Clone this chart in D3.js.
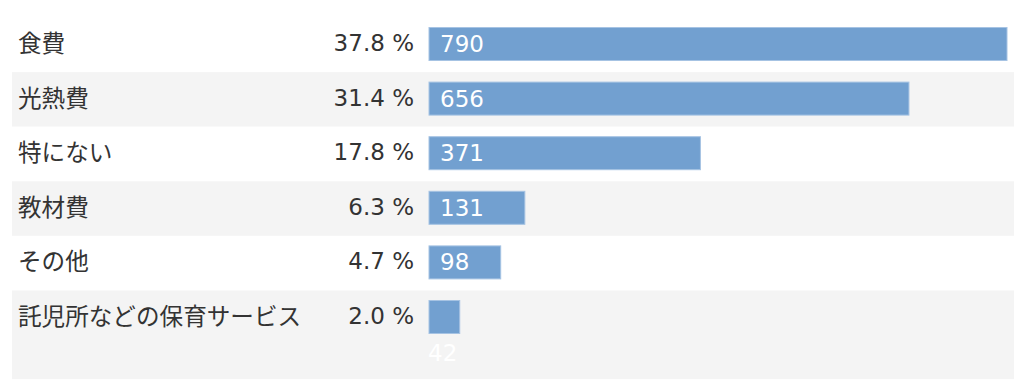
<!DOCTYPE html>
<meta charset="utf-8">
<head>
<script src="https://cdnjs.cloudflare.com/ajax/libs/d3/7.8.5/d3.min.js"></script>
<style>
  body { margin: 0; background: #fff; }
  text { font-family: "Noto Sans CJK JP", "Noto Sans", sans-serif; }
  text.num { font-family: "DejaVu Sans", "Noto Sans", sans-serif; }
</style>
</head>
<body>
<div id="my_dataviz"></div>
<script>
  // data
  var categories = ["食費", "光熱費", "特にない", "教材費", "その他", "託児所などの保育サービス"];
  var percents = [37.8, 31.4, 17.8, 6.3, 4.7, 2.0];
  var counts = [790, 656, 371, 131, 98, 42];

  var width = 1024, height = 390;
  var top0 = 17.5, rowH = 54.6, extraH = 34;
  var bgLeft = 12, bgRight = 1014;
  var barH = 33, barPad = 10;

  var svg = d3.select("#my_dataviz")
    .append("svg")
      .attr("width", width)
      .attr("height", height);

  var x = d3.scaleLinear()
    .domain([0, d3.max(counts)])
    .range([429, 1007]);

  // labels that don't fit inside the bar go below it
  var rows = [];
  var yy = top0;
  categories.forEach(function(c, i) {
    var inside = x(counts[i]) - x(0) > 50;
    var h = inside ? rowH : rowH + extraH;
    rows.push({name: c, pct: percents[i], n: counts[i], y: yy, h: h, inside: inside, i: i});
    yy += h;
  });

  var g = svg.selectAll("g.row")
    .data(rows)
    .enter()
    .append("g")
      .attr("class", "row")
      .attr("transform", function(d){ return "translate(0," + d.y + ")"; });

  g.append("rect")
    .attr("x", bgLeft)
    .attr("y", 0)
    .attr("width", bgRight - bgLeft)
    .attr("height", function(d){ return d.h; })
    .attr("fill", function(d){ return d.i % 2 ? "#f4f4f4" : "#ffffff"; });

  g.append("rect")
    .attr("x", x(0))
    .attr("y", barPad)
    .attr("width", function(d){ return x(d.n) - x(0); })
    .attr("height", barH)
    .attr("fill", "#72a0d0")
    .attr("stroke", "#a6c3e3")
    .attr("stroke-width", 1);

  var midY = barPad + barH / 2;

  g.append("text")
    .attr("x", 18)
    .attr("y", midY - 2)
    .attr("dominant-baseline", "central")
    .attr("font-size", "23.6px")
    .attr("fill", "#333")
    .text(function(d){ return d.name; });

  g.append("text")
    .attr("class", "num")
    .attr("x", 414)
    .attr("y", midY - 1)
    .attr("dominant-baseline", "central")
    .attr("text-anchor", "end")
    .attr("font-size", "23px")
    .attr("fill", "#333")
    .text(function(d){ return d.pct.toFixed(1) + " %"; });

  g.append("text")
    .attr("class", "num")
    .attr("x", function(d){ return d.inside ? x(0) + 11 : x(0) - 1; })
    .attr("y", function(d){ return d.inside ? midY : barPad + barH + 19; })
    .attr("dominant-baseline", "central")
    .attr("font-size", "23px")
    .attr("fill", "#fff")
    .text(function(d){ return d.n; });
</script>
</body>
